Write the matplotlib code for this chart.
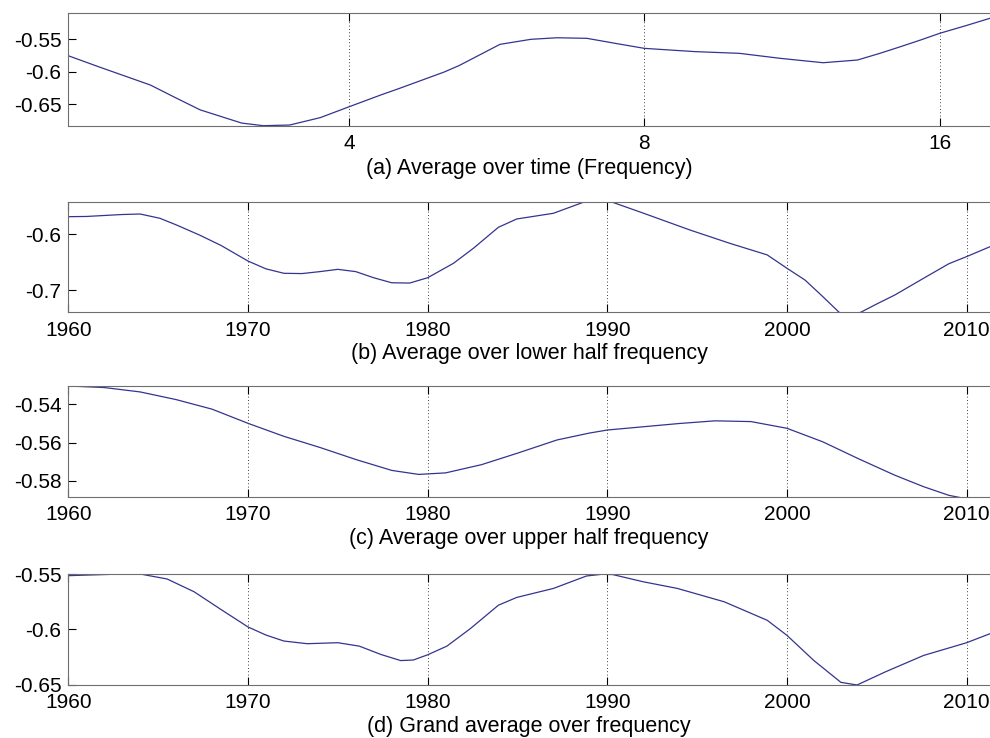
import numpy as np
import matplotlib
matplotlib.use('Agg')
import matplotlib.pyplot as plt

# Data
# (a) average over time, x = frequency (log2 axis)
freq_a = [2.07, 2.23, 2.51, 2.66, 2.82, 3.0, 3.11, 3.27, 3.48, 3.74, 4.0, 4.31, 4.5,
          5.0, 5.18, 5.7, 6.13, 6.52, 6.99, 7.54, 8.0, 9.0, 10.0, 11.0, 12.17, 13.19,
          13.9, 14.59, 15.3, 16.0, 17.0, 18.0]
val_a = [-0.5754, -0.5932, -0.6207, -0.640, -0.659, -0.672, -0.6795, -0.6835, -0.6825,
         -0.671, -0.6543, -0.636, -0.626, -0.6006, -0.5905, -0.5578, -0.550, -0.5476,
         -0.5485, -0.5573, -0.564, -0.569, -0.5717, -0.5794, -0.5862, -0.582, -0.5717,
         -0.5614, -0.551, -0.5407, -0.529, -0.5175]

# (b) lower half frequency
years_b = [1960, 1961, 1963, 1964, 1965.1, 1966, 1967.3, 1968.5, 1970, 1971, 1972, 1973,
           1974, 1975, 1976, 1977, 1978, 1979, 1980, 1981.44, 1982.55, 1983.94, 1984.96,
           1987.0, 1988.75, 1989.5, 1990.2, 1992, 1994.6, 1996.8, 1998.9, 2000, 2001,
           2002, 2002.9, 2003.5, 2004.1, 2005, 2006, 2007.6, 2009, 2010, 2011.3]
val_b = [-0.5684, -0.568, -0.5645, -0.5636, -0.5713, -0.583, -0.6013, -0.620, -0.648,
         -0.662, -0.670, -0.6705, -0.667, -0.6629, -0.667, -0.678, -0.687, -0.6875,
         -0.678, -0.652, -0.625, -0.5874, -0.5725, -0.5623, -0.5415, -0.538, -0.5415,
         -0.562, -0.5923, -0.616, -0.637, -0.661, -0.682, -0.712, -0.740, -0.745,
         -0.740, -0.725, -0.709, -0.679, -0.653, -0.640, -0.6223]

# (c) upper half frequency
years_c = [1960, 1962, 1964, 1966, 1968, 1970, 1972, 1974, 1976, 1978, 1979.5, 1981,
           1983, 1985, 1987.2, 1989, 1990, 1992, 1994, 1996, 1998, 2000, 2002, 2004,
           2006, 2007.6, 2009, 2009.8, 2011.3]
val_c = [-0.5304, -0.5312, -0.5335, -0.5375, -0.5425, -0.5499, -0.5567, -0.5625,
         -0.5688, -0.5745, -0.5766, -0.5758, -0.5715, -0.5655, -0.5586, -0.555, -0.5534,
         -0.5517, -0.550, -0.5486, -0.549, -0.5525, -0.5596, -0.5685, -0.577, -0.583,
         -0.5875, -0.589, -0.5895]

# (d) grand average
years_d = [1960, 1962.4, 1964.0, 1965.5, 1967, 1968.5, 1970, 1971, 1972.0, 1973.3, 1975.0,
           1976.2, 1977.4, 1978.5, 1979.2, 1980, 1981.07, 1982.37, 1983.94, 1984.96,
           1987.0, 1988.84, 1989.67, 1990.3, 1992, 1993.9, 1996.5, 1998.9, 2000, 2001.5,
           2003.0, 2003.9, 2005.5, 2007.6, 2010, 2011.3]
val_d = [-0.5515, -0.5503, -0.55, -0.5545, -0.566, -0.582, -0.5977, -0.605, -0.6104,
         -0.6128, -0.6119, -0.615, -0.6225, -0.628, -0.6275, -0.6228, -0.615, -0.5993,
         -0.5781, -0.5711, -0.563, -0.5518, -0.5503, -0.5505, -0.557, -0.563, -0.575,
         -0.5917, -0.6053, -0.628, -0.6476, -0.65, -0.638, -0.6234, -0.6119, -0.6038]

captions = ['(a) Average over time (Frequency)',
            '(b) Average over lower half frequency',
            '(c) Average over upper half frequency',
            '(d) Grand average over frequency']

plt.rcParams['font.family'] = ['Liberation Sans', 'DejaVu Sans']
W, H = 990, 738
fig = plt.figure(figsize=(W / 100, H / 100), dpi=100)
line_col = '#34348f'
spine_col = '#6e6e6e'


def px_axes(top, bottom):
    left = 68.3
    return fig.add_axes([left / W, (H - bottom) / H, (W - left) / W, (bottom - top) / H])


def style(ax, yticks, ylabels, cap):
    for s in ax.spines.values():
        s.set_color(spine_col)
    ax.spines['right'].set_visible(False)
    ax.set_yticks(yticks)
    ax.set_yticklabels(ylabels)
    ax.tick_params(direction='in', length=6, width=0.8, labelsize=15,
                   top=True, colors='black')
    ax.tick_params(axis='x', pad=6)
    ax.tick_params(axis='y', pad=5)
    ax.xaxis.grid(True, linestyle=(0, (1, 3)), color='black', linewidth=0.6)
    ax.yaxis.grid(False)
    ax.text(0.5, -0.375, cap, transform=ax.transAxes, ha='center', va='center',
            fontsize=15.5)


axes_px = [(13.3, 126), (201.7, 312.3), (386, 497), (574, 685)]

# (a)
ax = px_axes(*axes_px[0])
ax.plot(freq_a, val_a, color=line_col, lw=0.9)
ax.set_xscale('log', base=2)
ax.set_xlim(2.07, 18.0)
ax.set_ylim(-0.684, -0.5098)
ax.set_xticks([4, 8, 16])
ax.set_xticklabels(['4', '8', '16'])
ax.minorticks_off()
style(ax, [-0.65, -0.6, -0.55], ['-0.65', '-0.6', '-0.55'], captions[0])

year_ticks = [1960, 1970, 1980, 1990, 2000, 2010]
panels = [
    (years_b, val_b, (-0.740, -0.5415), [-0.7, -0.6], ['-0.7', '-0.6']),
    (years_c, val_c, (-0.5884, -0.5304), [-0.58, -0.56, -0.54], ['-0.58', '-0.56', '-0.54']),
    (years_d, val_d, (-0.65, -0.55), [-0.65, -0.6, -0.55], ['-0.65', '-0.6', '-0.55']),
]
for i, (yrs, vals, ylim, yt, yl) in enumerate(panels):
    ax = px_axes(*axes_px[i + 1])
    ax.plot(yrs, vals, color=line_col, lw=0.9)
    ax.set_xlim(1960, 2011.3)
    ax.set_ylim(*ylim)
    ax.set_xticks(year_ticks)
    ax.set_xticklabels([str(y) for y in year_ticks])
    style(ax, yt, yl, captions[i + 1])

fig.savefig('out.png', dpi=100)
